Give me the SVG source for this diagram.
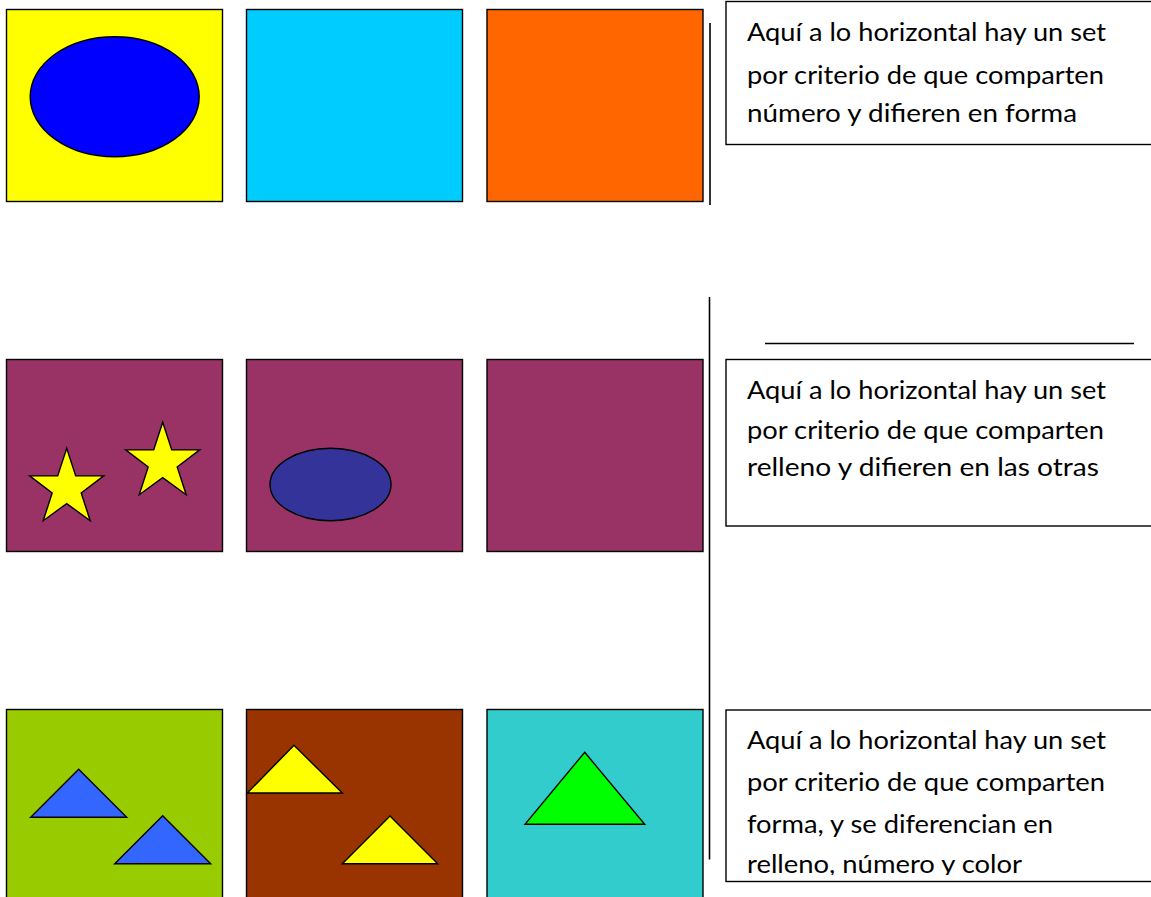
<svg xmlns="http://www.w3.org/2000/svg" xmlns:xlink="http://www.w3.org/1999/xlink" width="1151" height="897" viewBox="0 0 1151 897">
  <style>
    .card { stroke: #000; stroke-width: 1.4; }
    .shape { stroke: #000; stroke-width: 1.4; stroke-linejoin: miter; }
    .box { fill: #fff; stroke: #000; stroke-width: 1.4; }
    .line { stroke: #000; stroke-width: 1.6; fill: none; }
    .txt { font-family: "Lato", "Open Sans", "Liberation Sans", sans-serif; font-size: 24.5px; fill: #000; }
  </style>
  <defs>
    <polygon id="star" points="0,-40 9,-12.4 37,-12.4 14.5,4.7 23.5,32.4 0,15.3 -23.5,32.4 -14.5,4.7 -37,-12.4 -9,-12.4"/>
    <clipPath id="clip3"><rect x="726" y="711" width="425" height="164"/></clipPath>
  </defs>
  <rect width="1151" height="897" fill="#fff"/>

  <!-- Row 1 -->
  <g id="card-1-1">
    <rect class="card" x="6.5" y="9.5" width="216" height="192" fill="#FFFF00"/>
    <ellipse class="shape" cx="114.7" cy="96.7" rx="84.5" ry="60" fill="#0000FF"/>
  </g>
  <g id="card-1-2">
    <rect class="card" x="246.5" y="9.5" width="216" height="192" fill="#00CCFF"/>
  </g>
  <g id="card-1-3">
    <rect class="card" x="487" y="9.5" width="216" height="192" fill="#FF6600"/>
  </g>
  <g id="note-1">
    <rect class="box" x="726" y="1.5" width="440" height="143"/>
    <text class="txt" x="747" y="41" textLength="359" lengthAdjust="spacingAndGlyphs">Aquí a lo horizontal hay un set</text>
    <text class="txt" x="747" y="84" textLength="357" lengthAdjust="spacingAndGlyphs">por criterio de que comparten</text>
    <text class="txt" x="747" y="121.5" textLength="330" lengthAdjust="spacingAndGlyphs">número y difieren en forma</text>
  </g>

  <!-- Row 2 -->
  <g id="card-2-1">
    <rect class="card" x="6.5" y="359.5" width="216" height="192" fill="#993366"/>
    <use xlink:href="#star" href="#star" class="shape" fill="#FFFF00" transform="translate(66.7,488.3)"/>
    <use xlink:href="#star" href="#star" class="shape" fill="#FFFF00" transform="translate(162.7,462.3)"/>
  </g>
  <g id="card-2-2">
    <rect class="card" x="246.5" y="359.5" width="216" height="192" fill="#993366"/>
    <ellipse class="shape" cx="330.5" cy="484.5" rx="60.5" ry="36.2" fill="#333399"/>
  </g>
  <g id="card-2-3">
    <rect class="card" x="487" y="359.5" width="216" height="192" fill="#993366"/>
  </g>
  <g id="note-2">
    <rect class="box" x="726" y="359.5" width="440" height="166.5"/>
    <text class="txt" x="747" y="399" textLength="359" lengthAdjust="spacingAndGlyphs">Aquí a lo horizontal hay un set</text>
    <text class="txt" x="747" y="439" textLength="357" lengthAdjust="spacingAndGlyphs">por criterio de que comparten</text>
    <text class="txt" x="747" y="475.5" textLength="352" lengthAdjust="spacingAndGlyphs">relleno y difieren en las otras</text>
  </g>

  <!-- Row 3 -->
  <g id="card-3-1">
    <rect class="card" x="6.5" y="709.5" width="216" height="200" fill="#99CC00"/>
    <polygon class="shape" points="78.7,769.3 126.7,817.3 30.7,817.3" fill="#3366FF"/>
    <polygon class="shape" points="162.7,815.7 210.7,863.7 114.7,863.7" fill="#3366FF"/>
  </g>
  <g id="card-3-2">
    <rect class="card" x="246.5" y="709.5" width="216" height="200" fill="#993300"/>
    <polygon class="shape" points="294,745.3 342.3,793 247.3,793" fill="#FFFF00"/>
    <polygon class="shape" points="390,816 437.7,863.7 342.3,863.7" fill="#FFFF00"/>
  </g>
  <g id="card-3-3">
    <rect class="card" x="487" y="709.5" width="216" height="200" fill="#33CCCC"/>
    <polygon class="shape" points="584.7,752.3 644.7,824.3 525,824.3" fill="#00FF00"/>
  </g>
  <g id="note-3">
    <rect class="box" x="726" y="710" width="440" height="171.5"/>
    <g clip-path="url(#clip3)">
      <text class="txt" x="747" y="748.5" textLength="359" lengthAdjust="spacingAndGlyphs">Aquí a lo horizontal hay un set</text>
      <text class="txt" x="747" y="790.5" textLength="358" lengthAdjust="spacingAndGlyphs">por criterio de que comparten</text>
      <text class="txt" x="747" y="833" textLength="306" lengthAdjust="spacingAndGlyphs">forma, y se diferencian en</text>
      <text class="txt" x="747" y="873" textLength="275" lengthAdjust="spacingAndGlyphs">relleno, número y color</text>
    </g>
  </g>

  <!-- Connectors / separators -->
  <g id="connectors">
    <line class="line" x1="710" y1="23" x2="710" y2="205"/>
    <line class="line" x1="709.5" y1="297" x2="709.5" y2="859.5"/>
    <line class="line" x1="765" y1="343.5" x2="1134" y2="343.5"/>
  </g>
</svg>
